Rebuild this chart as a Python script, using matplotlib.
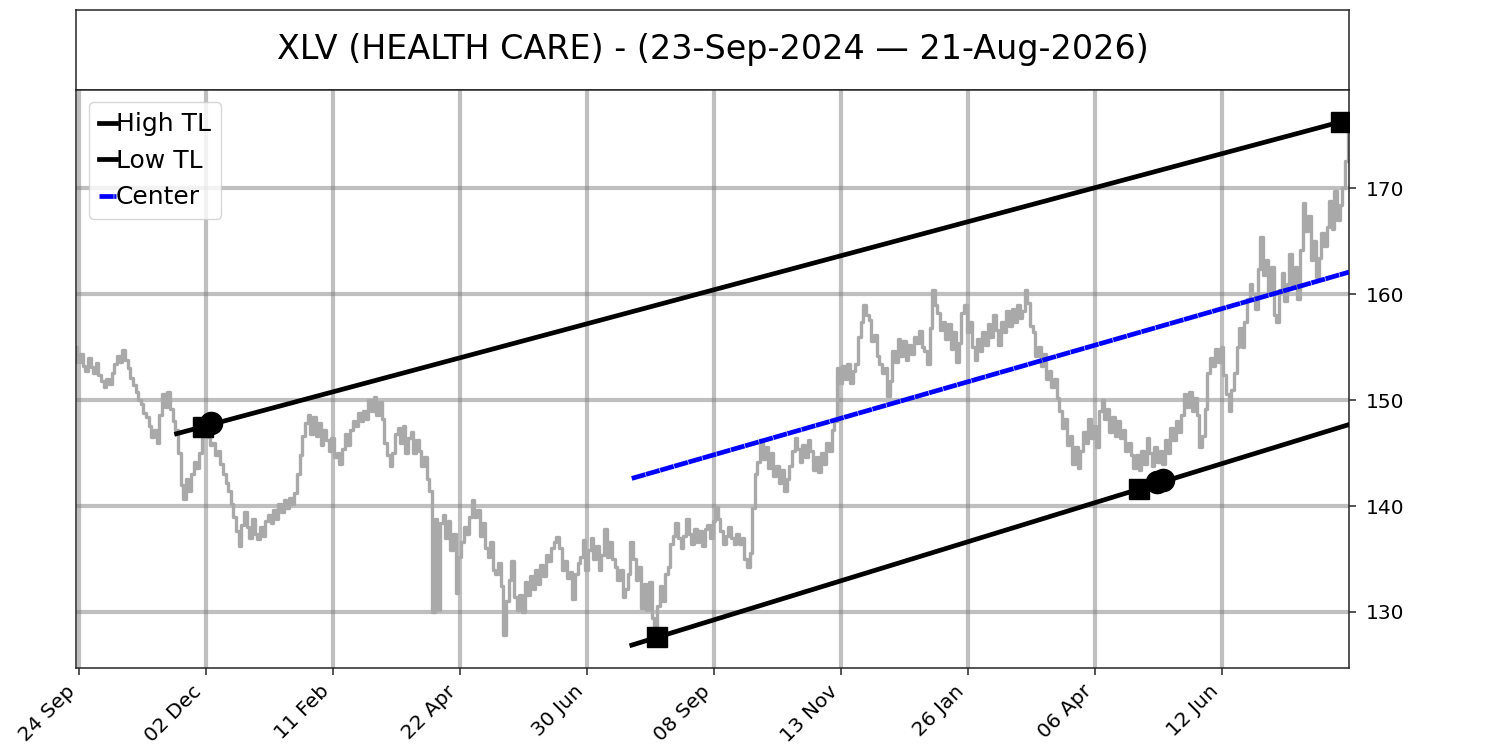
import numpy as np
import matplotlib
matplotlib.use("Agg")
import matplotlib.pyplot as plt

# XLV daily closes (one value per trading day)
prices = [
    155.0, 153.6, 154.4, 153.2, 152.8, 154.0, 153.1, 152.6, 153.5, 152.4,
    151.8, 151.2, 152.0, 151.5, 152.6, 153.4, 154.2, 153.6, 154.7, 153.8,
    153.0, 152.1, 151.4, 150.8, 150.0, 149.6, 148.8, 148.4, 147.6, 146.5,
    147.2, 146.0, 148.6, 150.6, 149.4, 150.8, 149.2, 148.0, 147.2, 145.0,
    142.0, 140.7, 142.6, 141.4, 143.0, 144.2, 143.6, 145.0, 147.2, 146.8,
    146.5, 145.8, 146.0, 144.8, 145.2, 144.0, 143.0, 142.2, 141.4, 140.2,
    139.0, 137.6, 136.2, 138.2, 139.4, 138.0, 137.0, 138.8, 137.4, 136.9,
    138.0, 137.2, 138.6, 139.2, 138.4, 139.6, 138.8, 140.2, 139.4, 140.6,
    139.8, 140.8, 140.2, 141.2, 143.0, 144.8, 146.6, 147.8, 148.6, 146.8,
    148.4, 146.6, 147.8, 145.8, 147.2, 146.2, 145.2, 146.4, 144.6, 145.0,
    144.0, 145.4, 146.8, 145.8, 147.2, 148.0, 147.6, 148.8, 148.0, 149.0,
    148.2, 150.0, 149.0, 150.3, 148.6, 149.8, 148.2, 146.0, 144.8, 143.8,
    145.0, 146.8, 147.4, 146.0, 147.6, 145.0, 146.4, 147.0, 145.0, 146.2,
    145.2, 143.8, 144.6, 142.6, 141.4, 130.0, 138.8, 130.2, 138.4, 139.2,
    137.0, 138.6, 135.8, 137.4, 131.8, 135.2, 136.6, 138.0, 137.4, 139.0,
    140.6, 139.0, 139.6, 137.2, 138.4, 136.0, 135.2, 136.6, 134.0, 133.6,
    134.6, 132.4, 127.8, 131.0, 133.0, 134.8, 131.4, 130.2, 131.6, 130.0,
    132.8, 131.6, 133.4, 132.2, 134.0, 132.6, 134.4, 133.4, 135.4, 134.8,
    136.0, 136.6, 137.1, 136.0, 134.0, 134.8, 133.2, 133.8, 131.2, 133.6,
    134.6, 135.2, 136.8, 134.0, 135.8, 137.0, 135.0, 136.2, 134.0, 135.4,
    137.8, 135.2, 136.6, 135.0, 134.2, 133.0, 134.0, 131.4, 132.2, 133.6,
    136.6, 135.0, 133.0, 134.2, 130.4, 132.6, 130.2, 132.8, 129.4, 128.6,
    130.6, 132.4, 131.0, 133.6, 134.2, 136.4, 137.2, 138.4, 137.0, 136.0,
    137.2, 138.8, 137.4, 136.4, 137.8, 136.6, 137.6, 136.2, 137.8, 138.2,
    137.0, 138.6, 139.9, 138.8, 137.6, 136.4, 137.2, 138.0, 137.0, 136.4,
    137.4, 136.4, 137.0, 135.0, 134.2, 135.6, 139.8, 143.0, 144.2, 146.2,
    144.4, 145.6, 143.6, 145.0, 142.8, 143.8, 142.2, 143.4, 141.4, 142.6,
    143.8, 145.2, 146.4, 145.4, 144.2, 145.8, 144.6, 146.2, 145.2, 143.4,
    144.6, 143.2, 145.0, 144.0, 146.0, 145.2, 147.2, 148.0, 153.0, 151.6,
    153.2, 152.0, 153.4, 151.6, 152.8, 153.4, 156.0, 157.4, 159.0, 158.0,
    157.6, 155.6, 156.2, 154.2, 153.4, 152.6, 153.0, 150.4, 151.8, 154.6,
    153.6, 155.8, 154.2, 155.6, 153.8, 155.2, 154.4, 156.0, 155.4, 156.5,
    155.0, 154.6, 153.4, 156.8, 160.4, 159.0, 158.2, 156.6, 157.4, 155.8,
    157.2, 154.8, 156.4, 153.6, 155.4, 158.2, 159.0, 156.4, 157.4, 155.0,
    153.8, 155.8, 154.6, 156.4, 155.2, 157.2, 156.0, 158.0, 156.6, 155.2,
    157.4, 156.4, 158.4, 157.0, 158.6, 157.4, 159.0, 157.8, 158.4, 160.4,
    159.2, 157.0, 156.4, 154.2, 155.0, 153.2, 154.4, 152.0, 152.8, 151.2,
    152.0, 150.2, 149.0, 147.4, 148.2, 145.8, 146.6, 144.0, 145.6, 143.6,
    145.2, 147.0, 146.0, 148.2, 146.4, 147.6, 145.6, 149.0, 150.0, 148.2,
    149.2, 147.0, 148.4, 146.6, 148.0, 146.4, 147.2, 145.2, 146.0, 144.8,
    143.6, 144.8, 143.4, 145.2, 144.0, 146.4, 145.0, 143.8, 145.6, 144.2,
    145.2, 144.0, 146.2, 145.0, 147.4, 146.2, 148.0, 147.0, 148.6, 150.6,
    149.4, 150.8, 149.0, 150.2, 148.6, 145.6, 146.6, 149.2, 152.6, 154.0,
    153.2, 154.8, 153.6, 155.0, 152.4, 150.6, 149.0, 151.0, 152.6, 155.0,
    156.8, 155.0, 157.4, 159.6, 161.0, 160.0, 158.6, 162.4, 165.4, 161.8,
    163.2, 160.2, 162.6, 158.0, 157.4, 160.4, 162.0, 159.4, 161.0, 163.8,
    160.8, 162.6, 159.6, 164.2, 168.6, 166.0, 167.4, 163.2, 165.0, 161.6,
    163.4, 165.8, 164.6, 166.4, 168.8, 166.2, 169.8, 167.0, 168.4, 170.0,
    172.6, 176.2,
]

tick_labels = ["24 Sep", "02 Dec", "11 Feb", "22 Apr", "30 Jun",
               "08 Sep", "13 Nov", "26 Jan", "06 Apr", "12 Jun"]
tick_step = 48

# pivot points (trading-day index, price)
high_sq = [(48, 147.5), (478, 176.3)]
high_circ = [(51, 147.8)]
low_sq = [(219.6, 127.6), (401.7, 141.6)]
low_circ = [(408.4, 142.3), (410.8, 142.5)]

high_start = 38
low_start = 210

title = "XLV (HEALTH CARE) - (23-Sep-2024 \u2014 21-Aug-2026)"


def line_through(p1, p2, x):
    # straight line through two pivots evaluated at x
    slope = (p2[1] - p1[1]) / (p2[0] - p1[0])
    return p1[1] + slope * (x - p1[0])


n = len(prices)
idx = np.arange(n)
end = n - 1
spine_col = "#262626"

fig = plt.figure(figsize=(15, 7.5), dpi=100)
ax_t = fig.add_axes([76 / 1500, 0.88, (1349 - 76) / 1500, 80 / 750])
ax_t.set_xticks([])
ax_t.set_yticks([])
ax_t.text(0.5, 0.5, title, ha="center", va="center", fontsize=24,
          transform=ax_t.transAxes)

ax = fig.add_axes([76 / 1500, 82 / 750, (1349 - 76) / 1500, (668 - 90) / 750])

for a in (ax, ax_t):
    for sp in a.spines.values():
        sp.set_linewidth(1.1)
        sp.set_color(spine_col)

ax.plot(idx, prices, color="darkgray", lw=2.4, drawstyle="steps-mid", zorder=2)

hx = np.array([high_start, end])
lx = np.array([low_start, end])
hy = line_through(high_sq[0], high_sq[1], hx)
ly = line_through(low_sq[0], low_sq[1], lx)
cy = (line_through(high_sq[0], high_sq[1], lx) + ly) / 2

ax.plot(hx, hy, color="black", lw=3.4, label="High TL", zorder=3)
ax.plot(lx, ly, color="black", lw=3.4, label="Low TL", zorder=3)
ax.plot(lx, cy, color="blue", lw=3.4, dashes=(3.0, 0.12), label="Center", zorder=3)

for pts in (high_sq, low_sq):
    ax.plot([p[0] for p in pts], [p[1] for p in pts], "s", color="black",
            ms=14, zorder=4)
for pts in (high_circ, low_circ):
    ax.plot([p[0] for p in pts], [p[1] for p in pts], "o", color="black",
            ms=16, zorder=4)

ax.set_xlim(0, end)
ax.set_ylim(124.7, 179.3)
ticks = [1 + tick_step * k for k in range(len(tick_labels))]
ax.set_xticks(ticks)
ax.set_xticklabels(tick_labels, rotation=45, ha="right")
ax.yaxis.tick_right()
ax.set_yticks([130, 140, 150, 160, 170])
ax.tick_params(axis="both", labelsize=14.5, length=4.8, width=1.1,
               color=spine_col)
ax.tick_params(axis="y", pad=7)
ax.tick_params(axis="x", pad=5)
ax.grid(True, color="gray", alpha=0.5, lw=3)
ax.set_axisbelow(True)

ax.legend(loc="upper left", fontsize=18, handlelength=0.7, handletextpad=0.0,
          borderpad=0.4, labelspacing=0.5)

fig.savefig("out.png", dpi=100)
